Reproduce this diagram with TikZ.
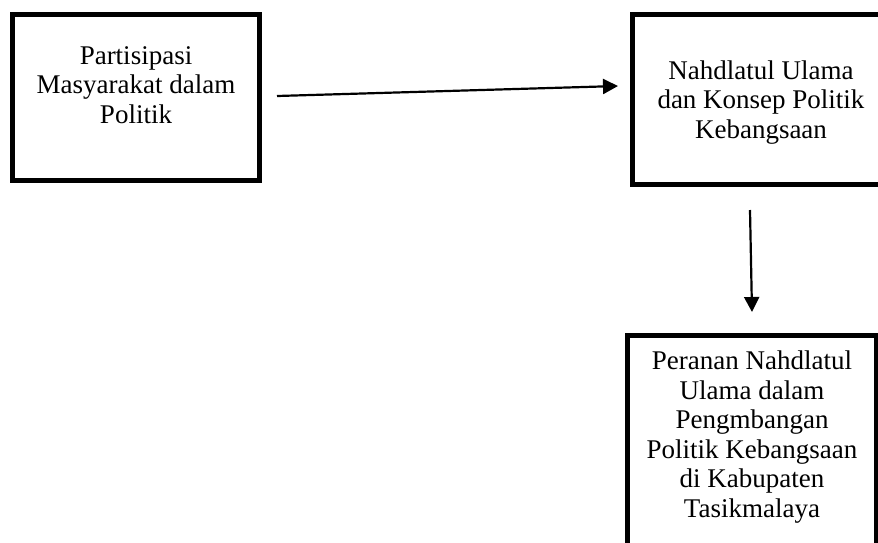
\documentclass[tikz,border=0pt]{standalone}
\usepackage{fontspec}
\setmainfont{Liberation Serif}
\usetikzlibrary{arrows.meta}

\tikzset{
  kotak/.style={draw, line width=5pt, inner sep=0pt},
  teks/.style={align=center, anchor=base, inner sep=0pt,
    font=\fontsize{27}{29.5}\selectfont},
  panah/.style={line width=2.2pt, -{Triangle[length=15pt,width=15pt]}},
}

\begin{document}
\begin{tikzpicture}[x=1pt,y=-1pt]
	%%%%% BINGKAI %%%%%
	\useasboundingbox (0,0) rectangle (878,542);
	\clip (0,0) rectangle (878,542);
	
	\node[kotak, minimum width=247pt, minimum height=166pt] (partisipasi) at (136, 97.5) {};
	\node[kotak, minimum width=257pt, minimum height=170pt] (nahdlatul) at (761, 99.5) {};
	\node[kotak, minimum width=249pt, minimum height=212pt] (peranan) at (752, 441.5) {};
	
	%%%%% TEKS (base = baris terakhir) %%%%%
	\node[teks] (tpartisipasi) at (136, 123) {Partisipasi\\Masyarakat dalam\\Politik};
	\node[teks] (tnahdlatul) at (761, 138) {Nahdlatul Ulama\\dan Konsep Politik\\Kebangsaan};
	\node[teks] (tperanan) at (752, 517) {Peranan Nahdlatul\\Ulama dalam\\Pengmbangan\\Politik Kebangsaan\\di Kabupaten\\Tasikmalaya};
	
	%%%%% PANAH %%%%%
	\draw[panah] ([xshift=15pt, yshift=1.5pt]partisipasi.east) -- ([xshift=-12pt, yshift=13.5pt]nahdlatul.west);
	\draw[panah] ([xshift=-11pt, yshift=-23pt]nahdlatul.south) -- ([yshift=21pt]peranan.north);
\end{tikzpicture}
\end{document}
